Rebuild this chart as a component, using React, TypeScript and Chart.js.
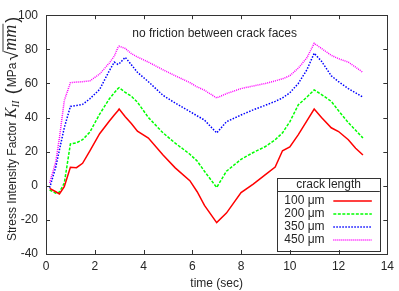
import React, { useEffect, useRef } from 'react';
import { Chart, registerables } from 'chart.js';

Chart.register(...registerables);

const time = [0.15, 0.4, 0.55, 0.75, 1.0, 1.25, 1.5, 1.8, 2.2, 2.6, 2.8, 2.95, 3.0, 3.25, 3.5, 3.75, 4.2, 4.8, 5.3, 5.9, 6.2, 6.5, 7.0, 7.4, 8.0, 8.5, 9.0, 9.4, 9.7, 10.0, 10.35, 10.7, 11.0, 11.3, 11.7, 12.0, 12.4, 12.7, 13.0];
const kii100 = [-1.5, -3.5, -4.8, -0.5, 10.8, 10.6, 13.2, 20.5, 30.5, 38, 41.5, 44, 45, 40.5, 36.5, 32, 28, 18, 10.5, 3, -3.5, -11.5, -21.6, -16, -4, 1, 6.5, 11, 20.5, 22.8, 30, 38, 45, 40, 34, 31.8, 27, 22, 18];
const kii200 = [-2.5, -4.4, -3.7, 1.5, 24.5, 25.2, 27, 31.5, 42, 51, 54.5, 57, 57.5, 54.8, 52.5, 49, 40, 31, 25, 18.5, 14.5, 8.5, -1, 8.5, 15.5, 19.5, 23, 27, 31, 37.5, 47.5, 52, 56.2, 53.5, 49.5, 44, 37, 32.5, 28];
const kii350 = [-1.2, 11, 21, 34, 46.5, 47, 47.7, 51, 56.5, 67.5, 72.5, 71.2, 71.5, 75.3, 71, 66.5, 61, 53, 48.5, 43.5, 41, 38.5, 31, 37.5, 41.5, 44.5, 47.2, 49.5, 51.5, 54.5, 60, 68, 77.7, 73, 64.5, 61, 57, 54.5, 52];
const kii450 = [1.7, 14, 28, 50, 60.4, 60.8, 61, 61.5, 65.5, 72, 76, 81, 81.8, 80.5, 77.5, 75.5, 72.5, 68, 64.5, 60.5, 58, 56, 51.5, 54, 57, 58.5, 60, 61.5, 62.7, 64.5, 69, 75, 83.5, 80.5, 76.5, 74.5, 72.5, 69.5, 66.5];

const seriesLabels = ['100 μm', '200 μm', '350 μm', '450 μm'];
const xTicks = [0, 2, 4, 6, 8, 10, 12, 14];
const yTicks = [-40, -20, 0, 20, 40, 60, 80, 100];
const annotationText = 'no friction between crack faces';
const legendTitle = 'crack length';
const xTitle = 'time (sec)';
const yTitleParts = ['Stress Intensity Factor ', 'K', 'II', '(', 'MPa', '√', 'mm', ')'];

const SANS = '"Liberation Sans", Arial, sans-serif';
const SERIF = '"Liberation Serif", "Times New Roman", serif';
const TEXT = '#262626';

const styles = [
  { color: '#ff0000', dash: [] as number[], width: 1.5 },
  { color: '#00ff00', dash: [3, 1.5], width: 1.5 },
  { color: '#0000ff', dash: [1.5, 1.5], width: 1.5 },
  { color: '#ff00ff', dash: [1, 1], width: 1.5 },
];

const decor = {
  id: 'decor',
  afterDraw(chart: any) {
    const { ctx, chartArea: a, scales } = chart;
    const xs = scales.x;
    const ys = scales.y;
    ctx.save();
    // frame
    ctx.strokeStyle = '#333';
    ctx.lineWidth = 1;
    ctx.setLineDash([]);
    ctx.strokeRect(Math.round(a.left) + 0.5, Math.round(a.top) + 0.5, Math.round(a.right - a.left), Math.round(a.bottom - a.top));
    ctx.beginPath();
    const tl = 4;
    xTicks.forEach((v) => {
      const px = Math.round(xs.getPixelForValue(v)) + 0.5;
      ctx.moveTo(px, a.bottom);
      ctx.lineTo(px, a.bottom - tl);
      ctx.moveTo(px, a.top);
      ctx.lineTo(px, a.top + tl);
    });
    yTicks.forEach((v) => {
      const py = Math.round(ys.getPixelForValue(v)) + 0.5;
      ctx.moveTo(a.left, py);
      ctx.lineTo(a.left + tl, py);
      ctx.moveTo(a.right, py);
      ctx.lineTo(a.right - tl, py);
    });
    ctx.stroke();

    // annotation
    ctx.fillStyle = TEXT;
    ctx.font = `12px ${SANS}`;
    ctx.textAlign = 'center';
    ctx.textBaseline = 'middle';
    ctx.fillText(annotationText, (a.left + a.right) / 2 - 2, a.top + 18);

    // legend
    const lx1 = a.right - 7.5;
    const lx0 = lx1 - 102.5;
    const ly1 = a.bottom - 4;
    const ly0 = ly1 - 72.5;
    ctx.fillStyle = '#fff';
    ctx.fillRect(lx0, ly0, lx1 - lx0, ly1 - ly0);
    ctx.strokeStyle = '#333';
    ctx.lineWidth = 1;
    ctx.strokeRect(Math.round(lx0) + 0.5, Math.round(ly0) + 0.5, Math.round(lx1 - lx0), Math.round(ly1 - ly0));
    ctx.beginPath();
    ctx.moveTo(lx0, Math.round(ly0 + 13) + 0.5);
    ctx.lineTo(lx1, Math.round(ly0 + 13) + 0.5);
    ctx.stroke();
    ctx.fillStyle = TEXT;
    ctx.textAlign = 'center';
    ctx.fillText(legendTitle, (lx0 + lx1) / 2, ly0 + 7);
    seriesLabels.forEach((lab, i) => {
      const cy = ly0 + 23.5 + i * 13;
      ctx.fillStyle = TEXT;
      ctx.textAlign = 'left';
      ctx.font = `12px ${SANS}`;
      ctx.fillText(lab, lx0 + 7, cy);
      const st = styles[i];
      ctx.strokeStyle = st.color;
      ctx.lineWidth = st.width;
      ctx.setLineDash(st.dash);
      ctx.beginPath();
      ctx.moveTo(lx0 + 56, cy);
      ctx.lineTo(lx0 + 94.5, cy);
      ctx.stroke();
    });
    ctx.setLineDash([]);

    // y title
    ctx.translate(12, 241);
    ctx.rotate(-Math.PI / 2);
    ctx.textAlign = 'left';
    ctx.textBaseline = 'alphabetic';
    ctx.fillStyle = TEXT;
    const base = 4;
    let x = 0;
    const put = (t: string, font: string, dy: number) => {
      ctx.font = font;
      ctx.fillText(t, x, base + dy);
      const w = ctx.measureText(t).width;
      x += w;
      return w;
    };
    put(yTitleParts[0], `12px ${SANS}`, 0);
    put(yTitleParts[1], `italic 16px ${SERIF}`, 0);
    put(yTitleParts[2], `italic 11px ${SERIF}`, 3);
    x += 6;
    put(yTitleParts[3], `18px ${SANS}`, 1.5);
    x += 1;
    put(yTitleParts[4], `12px ${SANS}`, 0);
    x += 2;
    put(yTitleParts[5], `18px ${SANS}`, 2);
    const mmStart = x;
    put(yTitleParts[6], `italic 18px ${SERIF}`, 0);
    ctx.strokeStyle = TEXT;
    ctx.lineWidth = 0.9;
    ctx.beginPath();
    ctx.moveTo(mmStart - 1, base - 13);
    ctx.lineTo(x + 1, base - 13);
    ctx.stroke();
    x += 2;
    put(yTitleParts[7], `18px ${SANS}`, 1.5);
    ctx.restore();
  },
};

export default function App() {
  const ref = useRef<HTMLCanvasElement>(null);
  useEffect(() => {
    const canvas = ref.current;
    if (!canvas) return;
    const mk = (vals: number[]) => time.map((t, i) => ({ x: t, y: vals[i] }));
    const series = [kii100, kii200, kii350, kii450];
    const chart = new Chart(canvas, {
      type: 'line',
      data: {
        datasets: series.map((vals, i) => ({
          label: seriesLabels[i],
          data: mk(vals),
          borderColor: styles[i].color,
          borderWidth: styles[i].width,
          borderDash: styles[i].dash,
          pointRadius: 0,
          fill: false,
          tension: 0,
        })),
      },
      options: {
        responsive: false,
        maintainAspectRatio: false,
        animation: false,
        layout: { padding: { top: 6, right: 9, left: 0, bottom: 0 } },
        plugins: { legend: { display: false }, tooltip: { enabled: false } },
        scales: {
          x: {
            type: 'linear',
            min: 0,
            max: 14,
            ticks: { stepSize: 2, padding: 5, color: TEXT, font: { family: SANS, size: 12 } },
            grid: { display: false, drawTicks: false },
            border: { display: false },
            title: { display: true, text: xTitle, padding: 0, color: TEXT, font: { family: SANS, size: 12 } },
            afterFit: (s: any) => { s.height = 37; },
          },
          y: {
            type: 'linear',
            min: -40,
            max: 100,
            ticks: { stepSize: 20, padding: 8, color: TEXT, font: { family: SANS, size: 12 } },
            grid: { display: false, drawTicks: false },
            border: { display: false },
            afterFit: (s: any) => { s.width = 46; },
          },
        },
      } as any,
      plugins: [decor],
    });
    return () => chart.destroy();
  }, []);
  return (
    <div style={{ position: 'fixed', left: 0, top: 0, width: 399, height: 291, background: '#fff' }}>
      <canvas ref={ref} width={399} height={291} style={{ width: 399, height: 291, display: 'block' }} />
    </div>
  );
}
